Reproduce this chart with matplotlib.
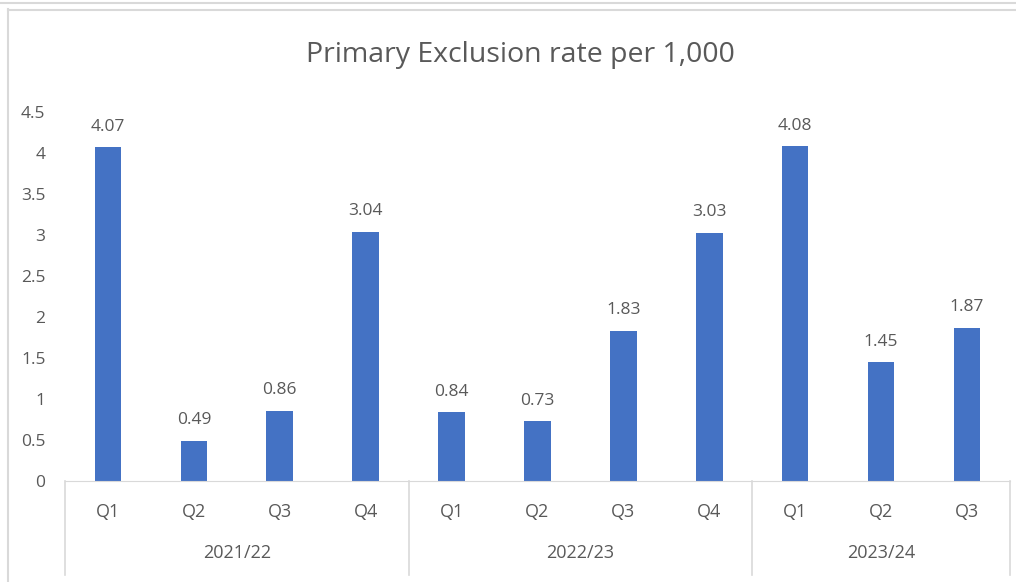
import matplotlib.pyplot as plt
import matplotlib.transforms as mtransforms
import numpy as np

plt.rcParams['font.family'] = ['Open Sans', 'DejaVu Sans']

years = ['2021/22', '2022/23', '2023/24']
quarters = [['Q1', 'Q2', 'Q3', 'Q4'], ['Q1', 'Q2', 'Q3', 'Q4'], ['Q1', 'Q2', 'Q3']]
rates = [4.07, 0.49, 0.86, 3.04, 0.84, 0.73, 1.83, 3.03, 4.08, 1.45, 1.87]
yticks = [0, 0.5, 1, 1.5, 2, 2.5, 3, 3.5, 4, 4.5]

grey = '#595959'
line_grey = '#d9d9d9'

fig = plt.figure(figsize=(10.16, 5.82), dpi=100)
ax = fig.add_axes([0.064, 0.1735, 0.93, 0.634])

x = np.arange(len(rates))
bars = ax.bar(x, rates, width=0.31, color='#4472C4')
for xi, v in zip(x, rates):
    ax.annotate(f'{v:.2f}', (xi, v), xytext=(0, 9), textcoords='offset points',
                ha='center', va='bottom', fontsize=12.5, color=grey)

ax.set_xlim(-0.5, len(rates) - 0.5)
ax.set_ylim(0, 4.5)
ax.set_yticks(yticks)
ax.set_yticklabels([f'{t:g}' for t in yticks])
ax.tick_params(axis='y', length=0, labelsize=12.5, labelcolor=grey, pad=14)
ax.set_xticks([])
for s in ['top', 'right', 'left']:
    ax.spines[s].set_visible(False)
ax.spines['bottom'].set_color(line_grey)

# multi-level category axis
trans = mtransforms.blended_transform_factory(ax.transData, ax.transAxes)
pos = 0
edges = [-0.5]
for yr, qs in zip(years, quarters):
    for j, q in enumerate(qs):
        ax.text(pos + j, -0.084, q, transform=trans, ha='center', va='center',
                fontsize=13, color=grey)
    ax.text(pos + (len(qs) - 1) / 2, -0.195, yr, transform=trans, ha='center',
            va='center', fontsize=13, color=grey)
    pos += len(qs)
    edges.append(pos - 0.5)
for e in edges:
    ax.plot([e, e], [0, -0.255], transform=trans, color=line_grey, lw=1.2,
            clip_on=False)

fig.text(0.512, 0.905, 'Primary Exclusion rate per 1,000', ha='center',
         va='center', fontsize=20.5, color=grey)

# chart border
fig.add_artist(plt.Line2D([0.008, 0.008], [0, 0.985], color=line_grey, lw=1.5))
fig.add_artist(plt.Line2D([0.008, 1], [0.982, 0.982], color=line_grey, lw=1.5))
fig.add_artist(plt.Line2D([0, 1], [0.995, 0.995], color=line_grey, lw=1.5))

fig.savefig('out.png')
